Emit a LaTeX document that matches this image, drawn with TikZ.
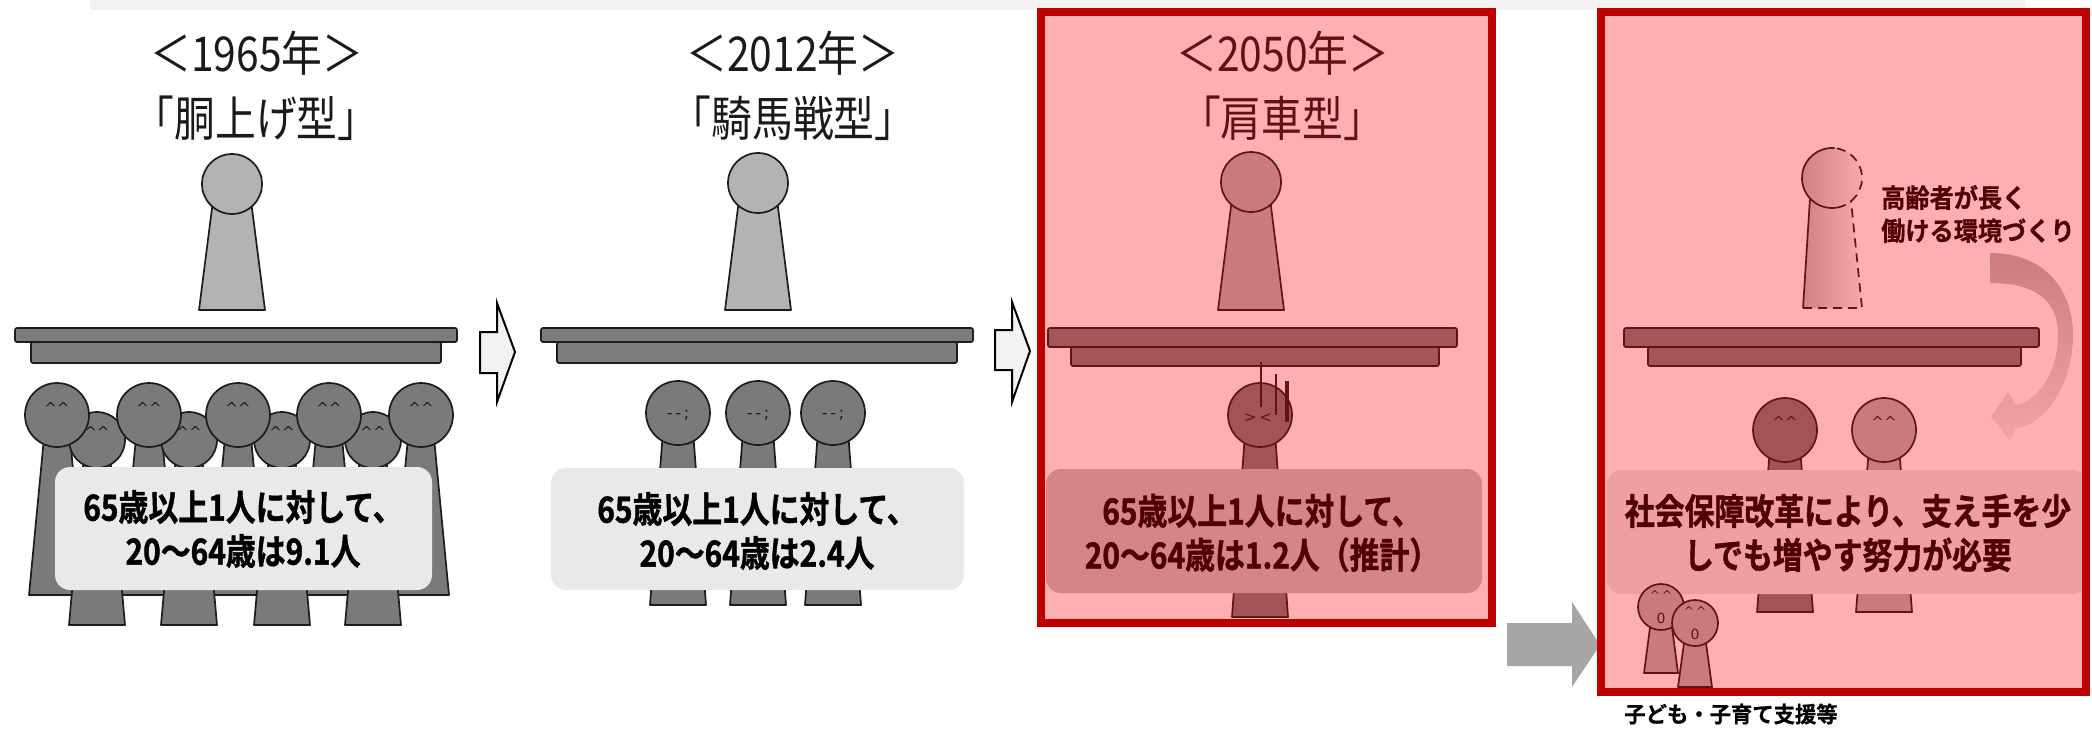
\documentclass[tikz,border=0pt]{standalone}
\usepackage{fontspec}
\setmainfont{Noto Sans CJK JP}
\newfontfamily\titlefont{Noto Sans CJK JP}[FakeStretch=0.85]
\newfontfamily\bodyfont{Noto Sans CJK JP Bold}[FakeStretch=0.83, FakeBold=1.2]
\newfontfamily\notefont{Noto Sans CJK JP Bold}[FakeStretch=0.93, FakeBold=0.8]
\newfontfamily\capfont{Noto Sans CJK JP Bold}[FakeStretch=0.97, FakeBold=0.6]
\newfontfamily\facefont{DejaVu Sans}

\definecolor{lightfig}{HTML}{B3B3B3}
\definecolor{darkfig}{HTML}{7A7A7A}
\definecolor{deskgray}{HTML}{7C7C7C}
\definecolor{inkline}{HTML}{1C1C1C}
\definecolor{titleink}{HTML}{1A1A1A}
\definecolor{boxgray}{HTML}{E9E9E9}
\definecolor{boxshade}{HTML}{C2C2C2}
\definecolor{framered}{HTML}{C00000}
\definecolor{arrowgray}{HTML}{A6A6A6}
\definecolor{bandgray}{HTML}{F2F2F2}
\definecolor{fadeL}{HTML}{BDBDBD}
\definecolor{fadeR}{HTML}{F6F6F6}
\definecolor{curvetop}{HTML}{B6B6B6}
\definecolor{curvebot}{HTML}{EFEFEF}

% a pawn-like figure: fill, cx, cy, head radius, top half-width, bottom y, bottom half-width
\newcommand\pawnbody[7]{\filldraw[inkstroke, fill=#1] ({#2-#5},{#3+0.55*#4}) -- ({#2+#5},{#3+0.55*#4}) -- ({#2+#7},#6) -- ({#2-#7},#6) -- cycle;}
\newcommand\pawnhead[4]{\filldraw[inkstroke, fill=#1] (#2,#3) circle[radius=#4];}
\newcommand\pawn[7]{\pawnbody{#1}{#2}{#3}{#4}{#5}{#6}{#7}\pawnhead{#1}{#2}{#3}{#4}}
% desk: top slab x1 x2 y1 y2, lower slab x3 x4, bottom y
\newcommand\desk[7]{%
  \filldraw[deskslab] (#5,#4) rectangle (#6,#7);
  \filldraw[deskslab] (#1,#3) rectangle (#2,#4);}
\newcommand\happyeyes{\textasciicircum\textasciicircum}

\begin{document}
\begin{tikzpicture}[x=1pt,y=-1pt,
  inkstroke/.style={draw=inkline, line width=1.7pt, line join=round},
  deskslab/.style={inkstroke, fill=deskgray, rounded corners=2pt},
  yeartitle/.style={inner sep=0pt, text=titleink, font=\titlefont\fontsize{48}{56}\selectfont},
  caption/.style={inner sep=0pt, align=center, text=black, font=\bodyfont\fontsize{36}{44}\selectfont},
  face/.style={inner sep=0pt, text=inkline, font=\facefont\fontsize{15}{15}\selectfont},
  blockarrow/.style={draw=black, line width=2pt, line join=miter, fill=bandgray},
  dashline/.style={inkstroke, dash pattern=on 9pt off 6pt}]
\useasboundingbox (0,0) rectangle (2092,731);

% header strip
\fill[bandgray] (90,0) rectangle (2025,10);

% ---------- 1965 ----------
\node[yeartitle] (t1a) at (257,53) {＜1965年＞};
\node[yeartitle] (t1b) at (256,118) {「胴上げ型」};
\pawn{lightfig}{232}{184}{30}{19}{310}{33}
\desk{15}{457}{328}{342}{31}{441}{363}
\foreach \cx in {57,149,238,329,421} {\pawnbody{darkfig}{\cx}{415}{32}{12.5}{595}{28}}
\foreach \cx in {97,189,282,373} {\pawnbody{darkfig}{\cx}{440}{28}{13}{625}{28}}
\foreach \cx in {97,189,282,373} {\pawnhead{darkfig}{\cx}{440}{28}
  \node[face] at (\cx,432) {\happyeyes};}
\foreach \cx in {57,149,238,329,421} {\pawnhead{darkfig}{\cx}{415}{32}
  \node[face] at (\cx,408) {\happyeyes};}
\fill[boxgray, rounded corners=15pt] (55,467) rectangle (432,590);
\node[caption] (c1) at (243,529) {65歳以上1人に対して、\\20～64歳は9.1人};

\filldraw[blockarrow] (480,332) -- (497,332) -- (497,303) -- (515,352) -- (497,402) -- (497,373) -- (480,373) -- cycle;

% ---------- 2012 ----------
\node[yeartitle] (t2a) at (793,53) {＜2012年＞};
\node[yeartitle] (t2b) at (793,118) {「騎馬戦型」};
\pawn{lightfig}{758}{183}{30}{19}{310}{33}
\desk{541}{973}{328}{342}{557}{957}{363}
\foreach \cx in {678,758,833} {\pawn{darkfig}{\cx}{413}{32}{15}{605}{28}
  \node[face, font=\facefont\fontsize{16}{16}\selectfont] at (\cx,415) {-\,-\,;};}
\fill[boxgray, rounded corners=15pt] (551,468) rectangle (964,590);
\node[caption] (c2) at (757,531) {65歳以上1人に対して、\\20～64歳は2.4人};

\filldraw[blockarrow] (995,330) -- (1012,330) -- (1012,302) -- (1030,351) -- (1012,402) -- (1012,370) -- (995,370) -- cycle;

% ---------- 2050 ----------
\node[yeartitle] (t3a) at (1283,53) {＜2050年＞};
\node[yeartitle] (t3b) at (1282,118) {「肩車型」};
\pawn{lightfig}{1251}{182}{30}{19}{310}{33}
\desk{1048}{1457}{328}{347}{1071}{1439}{366}
\pawn{darkfig}{1260}{415}{32}{15}{617}{28}
\node[face, font=\facefont\fontsize{15}{15}\selectfont] at (1258,418) {>\,<};
\draw[inkline, line width=2pt] (1261,362) -- (1261,407);
\draw[inkline, line width=2.4pt] (1276,374) -- (1276,415);
\draw[inkline, line width=3.4pt] (1287,381) -- (1287,422);
\fill[boxshade, rounded corners=15pt] (1046,469) rectangle (1482,593);
\node[caption] (c3) at (1262,533) {65歳以上1人に対して、\\20～64歳は1.2人（推計）};
\fill[red, opacity=0.314] (1041,12) rectangle (1492,623);
\draw[framered, line width=8pt] (1041,12) rectangle (1492,623);

% arrow into the reform panel
\fill[arrowgray] (1507,623) -- (1572,623) -- (1572,602) -- (1600,645) -- (1572,687) -- (1572,666) -- (1507,666) -- cycle;

% ---------- reform ----------
\desk{1624}{2039}{328}{347}{1648}{2021}{366}
% elder who keeps working (dashed outline)
\shade[left color=fadeL, right color=fadeR] (1810,198) -- (1851,201) -- (1862,308) -- (1803,308) -- cycle;
\shade[left color=fadeL, right color=fadeR] (1832,178) circle[radius=30];
\draw[inkstroke] (1810,198) -- (1803,308);
\draw[dashline] (1803,308) -- (1862,308) -- (1851,201);
\draw[inkstroke] ({1832+30*cos(275)},{178+30*sin(275)}) arc[start angle=275, end angle=80, radius=30];
\draw[dashline] ({1832+30*cos(80)},{178+30*sin(80)}) arc[start angle=80, end angle=-85, radius=30];
\node[inner sep=0pt, anchor=west, align=left, text=black, font=\notefont\fontsize{26}{33}\selectfont] (note) at (1881,214) {高齢者が長く\\働ける環境づくり};
% curved arrow
\shade[top color=curvetop, bottom color=curvebot]
  (1990,253) .. controls (2045,253) and (2073,290) .. (2073,335)
  .. controls (2073,385) and (2045,425) .. (2016,428)
  -- (2010,441) -- (1991,417) -- (2008,392) -- (2016,405)
  .. controls (2040,400) and (2058,370) .. (2058,335)
  .. controls (2058,300) and (2035,283) .. (1990,283) -- cycle;
\pawn{darkfig}{1785}{430}{32}{15}{612}{28}
\pawn{lightfig}{1884}{430}{32}{15}{612}{28}
\node[face] at (1785,422) {\happyeyes};
\node[face] at (1884,422) {\happyeyes};
\fill[boxgray, rounded corners=15pt] (1607,470) rectangle (2088,594);
\node[caption] (c4) at (1848,533) {社会保障改革により、支え手を少\\しでも増やす努力が必要};
% children
\pawn{lightfig}{1661}{607}{23}{10}{673}{17}
\node[face, font=\facefont\fontsize{12}{12}\selectfont] at (1661,595) {\textasciicircum\,\textasciicircum};
\node[face, font=\facefont\fontsize{14}{14}\selectfont] at (1661,618) {0};
\pawn{lightfig}{1695}{623}{23}{10}{687}{17}
\node[face, font=\facefont\fontsize{12}{12}\selectfont] at (1695,611) {\textasciicircum\,\textasciicircum};
\node[face, font=\facefont\fontsize{14}{14}\selectfont] at (1695,634) {0};
\fill[red, opacity=0.314] (1601,12) rectangle (2086,692);
\draw[framered, line width=8pt] (1601,12) rectangle (2086,692);

\node[inner sep=0pt, text=black, font=\capfont\fontsize{22}{26}\selectfont] (kids) at (1731,714) {子ども・子育て支援等};
\end{tikzpicture}
\end{document}
